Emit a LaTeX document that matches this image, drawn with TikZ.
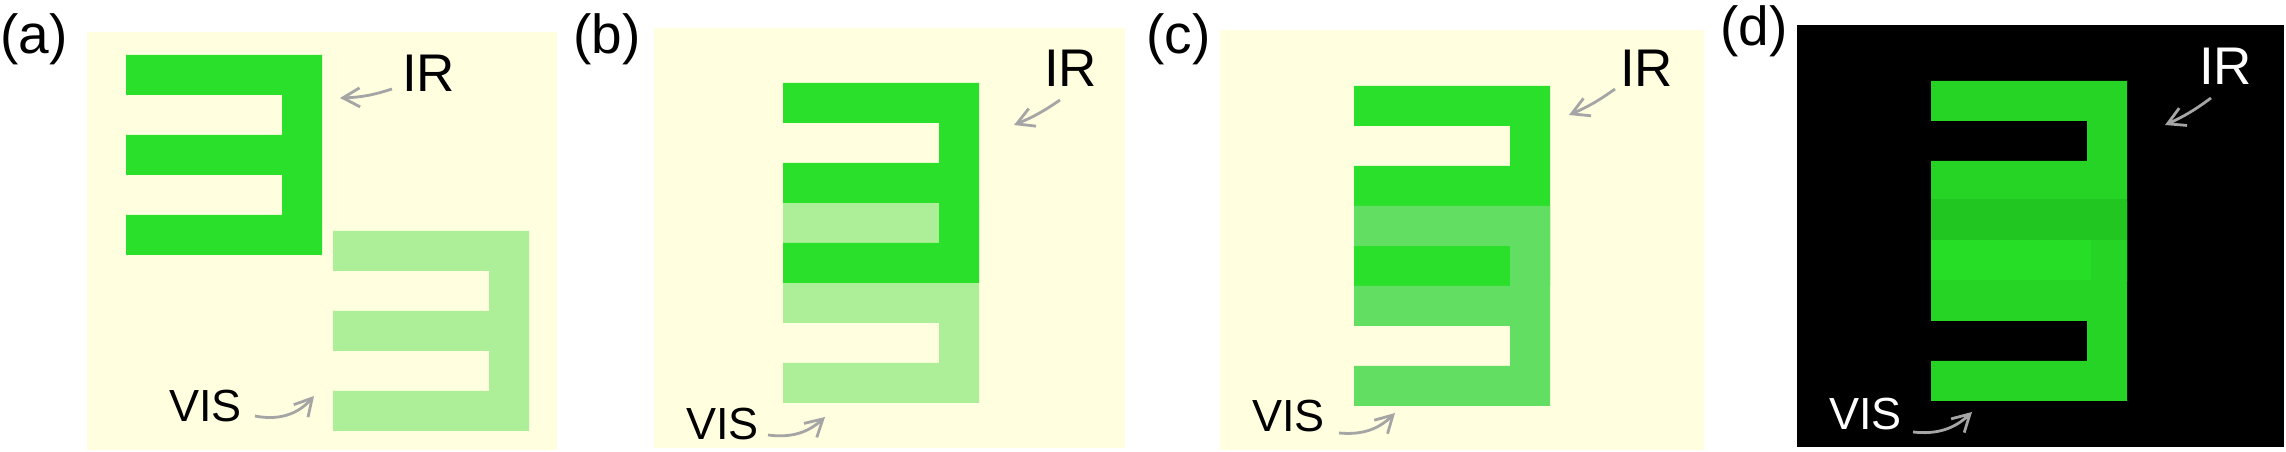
\documentclass[tikz,border=0pt]{standalone}
\usepackage{fontspec}
\setmainfont{Liberation Sans}
\usepackage{tikz}
\usetikzlibrary{arrows.meta}

\definecolor{cream}{RGB}{255,254,223}
\definecolor{irgreen}{RGB}{42,224,42}
\definecolor{visgreen}{RGB}{173,239,152}
\definecolor{midgreen}{RGB}{98,222,98}
\definecolor{dirgreen}{RGB}{38,212,38}
\definecolor{dvisgreen}{RGB}{33,198,33}
\definecolor{dlitgreen}{RGB}{37,222,37}
\definecolor{pointergray}{RGB}{165,165,165}

\begin{document}
\begin{tikzpicture}[x=1pt, y=1pt,
  comb/.pic={\path[pic actions] (0,0) -- (196,0) -- (196,-200) -- (0,-200) -- (0,-160) -- (156,-160)
    -- (156,-120) -- (0,-120) -- (0,-80) -- (156,-80) -- (156,-40) -- (0,-40) -- cycle;},
  tag/.style={font=\fontsize{55}{60}\selectfont, inner sep=0, anchor=base west},
  ir/.style={font=\fontsize{53}{60}\selectfont, inner sep=0, anchor=base west},
  vis/.style={font=\fontsize{45}{50}\selectfont, inner sep=0, anchor=base west},
  pointer/.style={draw=pointergray, line width=2.8pt, -{Straight Barb[length=17pt,width=19pt]}}]
\useasboundingbox (0,0) rectangle (2286,452);

% (a)
\fill[cream] (87,2) rectangle (557,420);
\pic[fill=irgreen] at (126,397) {comb};
\pic[fill=visgreen] at (333,221) {comb};
\node[tag] (taga) at (0,398) {(a)};
\node[ir] (IRa) at (402,360) {IR};
\node[vis] (VISa) at (169,30) {VIS};
\coordinate (IRa0) at (392,363);
\coordinate (IRa1) at (340,354);
\coordinate (VISa0) at (255,36);
\coordinate (VISa1) at (314,56);
\draw[pointer] (IRa0) to[bend left=8] (IRa1);
\draw[pointer] (VISa0) to[bend right=30] (VISa1);

% (b)
\fill[cream] (654,4) rectangle (1125,424);
\pic[fill=visgreen] at (783,249) {comb};
\pic[fill=irgreen] at (783,369) {comb};
\node[tag] (tagb) at (573,398) {(b)};
\node[ir] (IRb) at (1044,365) {IR};
\node[vis] (VISb) at (686,12) {VIS};
\coordinate (IRb0) at (1060,352);
\coordinate (IRb1) at (1014,327);
\coordinate (VISb0) at (768,17);
\coordinate (VISb1) at (825,35);
\draw[pointer] (IRb0) to[bend left=6] (IRb1);
\draw[pointer] (VISb0) to[bend right=25] (VISb1);

% (c)
\fill[cream] (1220,2) rectangle (1704,422);
\pic[fill=irgreen] at (1354,366) {comb};
\pic[fill=midgreen] at (1354,246) {comb};
\node[tag] (tagc) at (1146,398) {(c)};
\node[ir] (IRc) at (1620,365) {IR};
\node[vis] (VISc) at (1252,20) {VIS};
\coordinate (IRc0) at (1615,363);
\coordinate (IRc1) at (1569,337);
\coordinate (VISc0) at (1339,19);
\coordinate (VISc1) at (1395,39);
\draw[pointer] (IRc0) to[bend left=6] (IRc1);
\draw[pointer] (VISc0) to[bend right=25] (VISc1);

% (d)
\fill[black] (1797,5) rectangle (2284,427);
\pic[fill=dirgreen] at (1931,251) {comb};
\pic[fill=dirgreen] at (1931,371) {comb};
\fill[dvisgreen] (1931,253) rectangle (2127,212);
\fill[dlitgreen] (1931,212) rectangle (2091,172);
\node[tag] (tagd) at (1720,406) {(d)};
\node[ir, text=white] (IRd) at (2199,367) {IR};
\node[vis, text=white] (VISd) at (1829,22) {VIS};
\coordinate (IRd0) at (2211,354);
\coordinate (IRd1) at (2165,327);
\coordinate (VISd0) at (1913,20);
\coordinate (VISd1) at (1972,40);
\draw[pointer] (IRd0) to[bend left=6] (IRd1);
\draw[pointer] (VISd0) to[bend right=25] (VISd1);
\end{tikzpicture}
\end{document}
